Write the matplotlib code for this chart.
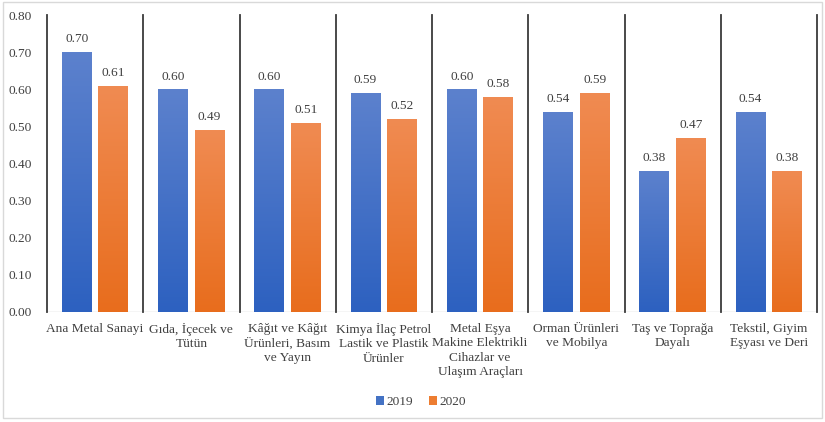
import matplotlib
matplotlib.use("Agg")
import matplotlib.pyplot as plt
import numpy as np
from matplotlib.patches import Rectangle
from matplotlib.colors import LinearSegmentedColormap

categories = ["Ana Metal Sanayi", "Gıda, İçecek ve\nTütün", "Kâğıt ve Kâğıt\nÜrünleri, Basım\nve Yayın",
              "Kimya İlaç Petrol\nLastik ve Plastik\nÜrünler",
              "Metal Eşya\nMakine Elektrikli\nCihazlar ve\nUlaşım Araçları",
              "Orman Ürünleri\nve Mobilya", "Taş ve Toprağa\nDayalı", "Tekstil, Giyim\nEşyası ve Deri"]
v2019 = [0.70, 0.60, 0.60, 0.59, 0.60, 0.54, 0.38, 0.54]
v2020 = [0.61, 0.49, 0.51, 0.52, 0.58, 0.59, 0.47, 0.38]
series = ["2019", "2020"]
yticks = [0.0, 0.1, 0.2, 0.3, 0.4, 0.5, 0.6, 0.7, 0.8]

plt.rcParams['font.family'] = ['Liberation Serif', 'DejaVu Serif']
TXT = "#404040"
FS = 9.6
grad = {"2019": ("#5c81cd", "#2d61c0"), "2020": ("#f08b52", "#e86d1d")}
solid = {"2019": "#4472c4", "2020": "#ed7d31"}

fig = plt.figure(figsize=(8.25, 4.22), dpi=100)
ax = fig.add_axes([47/825, 1-312/422, 770/825, 297/422])
n = len(categories)

w = 0.31
offs = [-0.19, 0.19]
for s, vals, off in zip(series, [v2019, v2020], offs):
    cmap = LinearSegmentedColormap.from_list(s, [grad[s][1], grad[s][0]])
    for i, v in enumerate(vals):
        x0 = i + 0.5 + off - w/2
        r = Rectangle((x0, 0), w, v, fc="none", ec="none")
        ax.add_patch(r)
        im = ax.imshow(np.linspace(0, 1, 100).reshape(-1, 1), cmap=cmap, origin="lower",
                       extent=(x0, x0+w, 0, v), aspect="auto", zorder=2)
        im.set_clip_path(r)
        ax.text(i + 0.5 + off, v + 0.018, f"{v:.2f}", ha="center", va="bottom", fontsize=FS, color=TXT)
ax.set_xlim(0, n); ax.set_ylim(0, 0.8)

# category separators
for i in range(n + 1):
    ax.plot([i, i], [0, 0.8], color="#3a3a3a", lw=1.3, zorder=3, clip_on=False)

for sp in ax.spines.values():
    sp.set_visible(False)
ax.axhline(0, color="#d0d0d0", lw=1, zorder=1)
ax.set_xticks(np.arange(n) + 0.5)
ax.set_xticklabels(categories, fontsize=FS, color=TXT, linespacing=1.25, va="top")
ax.set_yticks(yticks)
ax.set_yticklabels([f"{t:.2f}" for t in yticks], fontsize=FS, color=TXT)
ax.tick_params(axis="both", length=0)
ax.tick_params(axis="y", pad=11)
ax.tick_params(axis="x", pad=8)

handles = [Rectangle((0, 0), 1, 1, fc=solid[s]) for s in series]
fig.legend(handles, series, loc="center", bbox_to_anchor=(0.51, 0.047), ncol=2, frameon=False,
           fontsize=FS, handlelength=0.6, handleheight=0.6, handletextpad=0.2, columnspacing=1.2,
           labelcolor=TXT)

fig.patches.append(Rectangle((3/825, 4/422), 819/825, 416/422, transform=fig.transFigure,
                             fc="none", ec="#d9d9d9", lw=1))
fig.savefig("out.png", dpi=100, facecolor="white")
